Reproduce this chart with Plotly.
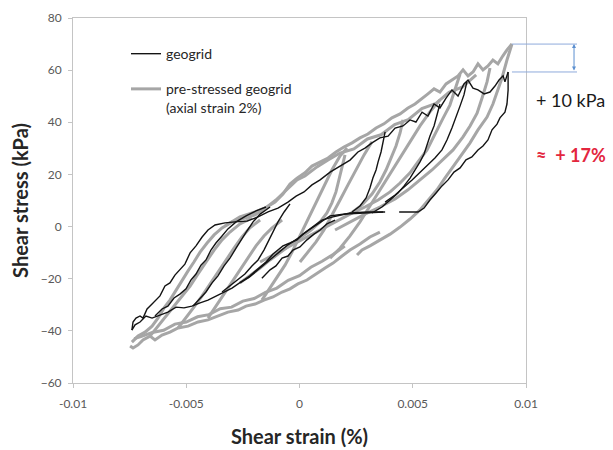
import plotly.graph_objects as go

# ---------------- data (shear strain, shear stress kPa) ----------------
# geogrid (black)
geo_1_x = [-0.00740,-0.00735,-0.00722,-0.00704,-0.00691,-0.00673,-0.00651,-0.00634,-0.00616,-0.00594,-0.00572,-0.00550,-0.00528,-0.00506,-0.00483,-0.00457,-0.00430,-0.00404,-0.00373,-0.00329,-0.00285,-0.00232,-0.00183,-0.00139,-0.00095,-0.00051,-0.00015,0.00020,0.00055,0.00091,0.00135,0.00179,0.00223,0.00258,0.00289,0.00320,0.00355,0.00391,0.00422,0.00457,0.00488,0.00514,0.00541,0.00567,0.00594,0.00620,0.00647,0.00673,0.00700,0.00726,0.00744,0.00766,0.00788,0.00815,0.00841,0.00863,0.00881,0.00899,0.00907,0.00921]
geo_1_y = [-39.7,-36.6,-35.1,-34.3,-35.1,-31.6,-29.7,-28.2,-26.6,-22.8,-21.6,-18.6,-16.6,-14.4,-10.1,-7.4,-4.0,-1.3,0.6,1.4,1.8,2.1,3.7,5.6,7.1,9.4,11.7,13.3,16.0,17.9,20.9,23.2,25.5,28.6,30.1,32.1,34.0,34.7,37.8,38.6,40.9,40.1,43.9,42.4,47.0,45.5,49.3,52.4,50.1,54.7,56.2,53.1,52.4,50.9,51.6,53.9,56.2,57.8,55.5,59.3]

geo_2_x = [0.00921,0.00921,0.00916,0.00907,0.00885,0.00872,0.00850,0.00832,0.00810,0.00788,0.00761,0.00735,0.00709,0.00682,0.00656,0.00629,0.00603,0.00576,0.00550,0.00523,0.00466,0.00440]
geo_2_y = [59.3,52.4,47.0,43.9,41.7,39.3,37.1,33.2,30.9,29.4,26.7,25.6,22.5,20.9,17.9,15.6,12.9,10.2,7.1,5.6,5.6,5.6]

geo_3_x = [0.00369,0.00289,0.00201,0.00135,0.00082,0.00038,-0.00007,-0.00051,-0.00086,-0.00121,-0.00157,-0.00188,-0.00223,-0.00263,-0.00298,-0.00333,-0.00369,-0.00404,-0.00439,-0.00475,-0.00510,-0.00545,-0.00581,-0.00616,-0.00651,-0.00678,-0.00704,-0.00726,-0.00740]
geo_3_y = [5.6,5.2,4.8,4.1,1.0,-1.5,-4.5,-7.0,-9.5,-12.0,-14.5,-17.0,-19.5,-21.5,-23.6,-25.1,-26.6,-28.2,-29.3,-30.5,-31.2,-30.9,-32.8,-33.9,-35.1,-34.3,-36.6,-37.7,-39.7]

geo_4_x = [-0.00638,-0.00607,-0.00581,-0.00554,-0.00528,-0.00501,-0.00479,-0.00457,-0.00435,-0.00413,-0.00391,-0.00369,-0.00342,-0.00316,-0.00280,-0.00236,-0.00192,-0.00148]
geo_4_y = [-34.3,-31.6,-30.5,-27.4,-25.9,-23.9,-20.5,-18.2,-14.8,-12.8,-9.0,-6.3,-3.6,-0.9,1.8,4.1,6.0,7.5]

geo_5_x = [-0.00470,-0.00439,-0.00413,-0.00386,-0.00360,-0.00333,-0.00307,-0.00280,-0.00258,-0.00232,-0.00205,-0.00174,-0.00130]
geo_5_y = [-30.5,-27.4,-25.1,-21.6,-18.9,-15.1,-12.1,-8.3,-5.1,-1.7,1.8,4.8,7.5]

geo_6_x = [-0.00342,-0.00307,-0.00271,-0.00241,-0.00210,-0.00183,-0.00157,-0.00135,-0.00117,-0.00095,-0.00068,-0.00042]
geo_6_y = [-25.1,-22.8,-20.5,-18.2,-15.1,-12.8,-9.0,-5.1,-2.1,1.8,5.6,8.7]

geo_7_x = [-0.00263,-0.00219,-0.00174,-0.00148,-0.00117,-0.00095,-0.00073,-0.00042,-0.00011,0.00015,0.00046,0.00073,0.00099,0.00148,0.00223,0.00298,0.00378]
geo_7_y = [-21.6,-18.9,-15.5,-13.6,-10.5,-9.0,-7.4,-6.3,-5.1,-2.9,-0.9,1.0,2.5,3.7,5.2,5.6,5.6]

geo_8_x = [-0.00166,-0.00130,-0.00104,-0.00077,-0.00051,-0.00029,0.00002,0.00033,0.00064,0.00091,0.00121,0.00157]
geo_8_y = [-19.8,-16.6,-15.1,-12.1,-11.3,-9.0,-7.8,-5.1,-2.9,-1.3,1.0,2.5]

geo_9_x = [0.00378,0.00369,0.00360,0.00347,0.00338,0.00324,0.00311,0.00294,0.00267,0.00232]
geo_9_y = [36.3,32.5,28.6,24.8,21.7,18.6,14.8,11.0,7.9,5.6]

geo_10_x = [0.00620,0.00607,0.00594,0.00576,0.00563,0.00550,0.00532,0.00510,0.00488,0.00461,0.00435,0.00400,0.00364,0.00320]
geo_10_y = [47.0,42.8,38.6,34.7,30.9,27.8,24.8,21.7,18.6,15.5,12.9,10.2,7.5,5.2]

geo_11_x = [0.00739,0.00726,0.00709,0.00691,0.00673,0.00651,0.00629,0.00598,0.00567,0.00532,0.00497,0.00457,0.00422,0.00378]
geo_11_y = [55.5,50.5,46.3,41.7,37.8,33.2,29.4,26.3,23.6,20.9,17.9,14.8,12.1,9.4]

# pre-stressed geogrid (grey)
pre_1_x = [-0.00740,-0.00713,-0.00682,-0.00651,-0.00625,-0.00598,-0.00572,-0.00545,-0.00519,-0.00492,-0.00466,-0.00439,-0.00408,-0.00377,-0.00342,-0.00298,-0.00241,-0.00196,-0.00152,-0.00108,-0.00073,-0.00042,-0.00011,0.00024,0.00055,0.00091,0.00126,0.00161,0.00196,0.00232,0.00267,0.00302,0.00338,0.00373,0.00408,0.00444,0.00479,0.00510,0.00541,0.00567,0.00594,0.00620,0.00647,0.00673,0.00700,0.00722,0.00744,0.00766,0.00788,0.00810,0.00832,0.00854,0.00876,0.00898,0.00916,0.00938]
pre_1_y = [-44.3,-42.0,-40.5,-38.2,-35.1,-31.2,-28.2,-24.3,-20.9,-17.0,-13.6,-9.8,-6.3,-3.2,-0.5,1.8,3.3,4.5,7.1,9.4,12.5,16.3,18.6,20.6,23.2,24.8,26.3,28.6,30.5,32.1,34.0,35.5,37.8,39.4,41.7,43.2,45.5,47.0,49.3,50.9,52.8,51.6,54.7,56.2,57.8,60.1,57.8,59.3,62.4,60.1,61.6,63.9,62.4,65.5,67.8,70.0]

pre_2_x = [0.00254,0.00276,0.00311,0.00355,0.00400,0.00444,0.00488,0.00532,0.00567,0.00607,0.00642,0.00678,0.00717,0.00753,0.00788,0.00828,0.00854,0.00872,0.00894,0.00916,0.00938]
pre_2_y = [-10.9,-9.0,-7.4,-5.1,-2.9,-0.2,2.9,6.4,10.2,14.1,18.6,22.9,27.5,32.1,37.1,42.0,47.0,51.2,57.0,63.9,70.0]

pre_3_x = [0.00841,0.00828,0.00806,0.00784,0.00753,0.00722,0.00678,0.00634,0.00585,0.00532,0.00479,0.00422,0.00355,0.00289,0.00223,0.00157]
pre_3_y = [60.8,55.5,49.3,43.5,38.6,34.4,29.4,25.6,21.7,17.9,14.1,10.6,7.5,4.8,1.8,-1.3]

pre_4_x = [0.00355,0.00311,0.00267,0.00223,0.00188,0.00148,0.00113,0.00073,0.00033,-0.00007,-0.00042,-0.00077,-0.00117,-0.00157,-0.00196,-0.00236,-0.00271,-0.00316,-0.00360,-0.00404,-0.00448,-0.00492,-0.00536,-0.00572,-0.00607,-0.00638,-0.00660,-0.00691,-0.00713,-0.00735,-0.00748]
pre_4_y = [-2.1,-4.0,-6.7,-9.0,-11.3,-14.0,-15.9,-18.2,-20.5,-22.0,-23.9,-25.1,-27.0,-28.2,-29.7,-30.5,-32.0,-32.8,-34.3,-35.8,-36.6,-38.2,-38.9,-40.5,-41.6,-43.5,-42.0,-43.5,-45.4,-46.6,-45.8]

pre_5_x = [0.00200,0.00150,0.00100,0.00050,0.00000,-0.00050,-0.00100,-0.00150,-0.00200,-0.00250,-0.00300,-0.00350,-0.00400,-0.00450,-0.00500,-0.00550,-0.00600,-0.00650,-0.00700,-0.00730]
pre_5_y = [-7.5,-10.6,-13.3,-15.6,-18.8,-20.6,-23.6,-25.2,-27.6,-28.6,-30.9,-31.5,-33.8,-34.6,-36.6,-37.4,-39.8,-40.6,-42.2,-43.0]

pre_6_x = [0.00201,0.00188,0.00174,0.00161,0.00143,0.00121,0.00091,0.00051,0.00002,-0.00042,-0.00086,-0.00130,-0.00174,-0.00219,-0.00263]
pre_6_y = [27.5,22.5,17.9,13.3,9.1,5.2,1.8,-1.3,-4.4,-7.1,-10.1,-12.8,-15.9,-18.9,-21.6]

pre_7_x = [0.00709,0.00686,0.00664,0.00634,0.00603,0.00563,0.00523,0.00488,0.00444,0.00400,0.00347,0.00289,0.00223,0.00157,0.00091,0.00024,-0.00042,-0.00108,-0.00174]
pre_7_y = [58.5,52.4,46.6,41.6,36.3,29.4,24.8,20.6,16.7,13.3,10.2,7.5,4.8,1.8,-1.3,-4.4,-7.4,-10.5,-13.6]

pre_8_x = [0.00457,0.00444,0.00426,0.00404,0.00382,0.00355,0.00320,0.00276,0.00223]
pre_8_y = [40.9,35.9,30.9,26.3,21.7,17.1,12.5,8.3,4.8]

pre_9_x = [-0.00660,-0.00625,-0.00589,-0.00554,-0.00519,-0.00483,-0.00448,-0.00413,-0.00377,-0.00342,-0.00307,-0.00263,-0.00210]
pre_9_y = [-42.0,-38.2,-34.3,-30.5,-26.6,-22.8,-18.2,-13.6,-9.0,-5.1,-2.1,1.0,3.3]

pre_10_x = [-0.00536,-0.00501,-0.00466,-0.00430,-0.00395,-0.00360,-0.00324,-0.00289,-0.00254,-0.00219,-0.00174]
pre_10_y = [-38.9,-35.1,-30.9,-26.6,-22.0,-17.4,-12.8,-8.3,-4.0,-0.5,2.5]

pre_11_x = [-0.00404,-0.00369,-0.00333,-0.00298,-0.00263,-0.00227,-0.00192,-0.00157,-0.00121,-0.00077]
pre_11_y = [-35.1,-30.5,-25.9,-21.3,-16.6,-12.1,-7.4,-3.6,-0.5,2.5]

pre_12_x = [-0.00166,-0.00130,-0.00095,-0.00064,-0.00033,-0.00007,0.00020,0.00046,0.00077,0.00108,0.00143,0.00179,0.00210]
pre_12_y = [-28.2,-23.6,-19.0,-14.8,-9.8,-5.1,-0.5,4.5,10.2,16.0,21.7,27.1,30.1]

pre_13_x = [0.00002,0.00038,0.00073,0.00108,0.00143,0.00179,0.00214,0.00249,0.00285,0.00320]
pre_13_y = [-13.6,-9.8,-5.9,-1.3,4.1,10.2,16.0,21.7,27.5,32.5]

pre_14_x = [0.00135,0.00179,0.00223,0.00267,0.00311,0.00355,0.00400,0.00444,0.00488,0.00532,0.00576,0.00620]
pre_14_y = [-12.1,-8.3,-3.6,1.8,7.9,14.1,20.2,26.3,32.5,38.6,44.0,48.6]

pre_15_x = [-0.00329,-0.00263,-0.00196,-0.00143,-0.00104,-0.00073,-0.00042,-0.00011,0.00024,0.00077,0.00126,0.00179,0.00240,0.00300,0.00360,0.00420,0.00480,0.00540,0.00600,0.00660,0.00720,0.00780]
pre_15_y = [0.2,3.7,5.6,7.5,10.2,12.9,15.6,17.9,19.4,22.9,25.5,28.2,29.8,33.6,35.2,39.1,41.0,45.3,47.1,51.5,53.6,58.2]

# axis ticks
x_ticks = [-0.01, -0.005, 0, 0.005, 0.01]
x_tick_text = ["-0.01", "-0.005", "0", "0.005", "0.01"]
y_ticks = [-60, -40, -20, 0, 20, 40, 60, 80]

geo_branches = [(geo_1_x, geo_1_y), (geo_2_x, geo_2_y), (geo_3_x, geo_3_y), (geo_4_x, geo_4_y),
                (geo_5_x, geo_5_y), (geo_6_x, geo_6_y), (geo_7_x, geo_7_y), (geo_8_x, geo_8_y),
                (geo_9_x, geo_9_y), (geo_10_x, geo_10_y), (geo_11_x, geo_11_y)]
pre_branches = [(pre_1_x, pre_1_y), (pre_2_x, pre_2_y), (pre_3_x, pre_3_y), (pre_4_x, pre_4_y),
                (pre_5_x, pre_5_y), (pre_6_x, pre_6_y), (pre_7_x, pre_7_y), (pre_8_x, pre_8_y),
                (pre_9_x, pre_9_y), (pre_10_x, pre_10_y), (pre_11_x, pre_11_y), (pre_12_x, pre_12_y),
                (pre_13_x, pre_13_y), (pre_14_x, pre_14_y), (pre_15_x, pre_15_y)]


def join(branches):
    xs, ys = [], []
    for bx, by in branches:
        n = min(len(bx), len(by))
        xs += list(bx[:n]) + [None]
        ys += list(by[:n]) + [None]
    return xs, ys


gx, gy = join(geo_branches)
px_, py_ = join(pre_branches)

FONT = "Lato"
fig = go.Figure()
fig.add_trace(go.Scatter(x=px_, y=py_, mode="lines", name="pre-stressed geogrid<br>(axial strain 2%)",
                         line=dict(color="#a6a6a6", width=3), connectgaps=False,
                         legendgroup="pre", legendrank=2))
fig.add_trace(go.Scatter(x=gx, y=gy, mode="lines", name="geogrid",
                         line=dict(color="#141414", width=1.4), connectgaps=False,
                         legendgroup="geo", legendrank=1))

geo_peak = max(geo_1_y)
pre_peak = max(pre_1_y)

axis_common = dict(showline=True, linecolor="#c4c4c4", linewidth=1, mirror=True,
                   ticks="outside", ticklen=4, tickcolor="#c4c4c4", showgrid=False,
                   zeroline=False, automargin=False,
                   tickfont=dict(family=FONT, size=12, color="#595959"))

fig.update_layout(
    width=613, height=450,
    margin=dict(l=73, r=87, t=18, b=67),
    paper_bgcolor="white", plot_bgcolor="white",
    font=dict(family=FONT),
    xaxis=dict(range=[-0.01, 0.01], tickvals=x_ticks, ticktext=x_tick_text,
               title=dict(text="<b>Shear strain (%)</b>", font=dict(family=FONT, size=20, color="#262626"), standoff=19),
               ticklabelstandoff=6, **axis_common),
    yaxis=dict(range=[-60, 80], tickvals=y_ticks,
               title=dict(text="<b>Shear stress (kPa)</b>", font=dict(family=FONT, size=20, color="#262626"), standoff=6),
               ticklabelstandoff=4, **axis_common),
    legend=dict(x=0.117, y=0.945, xanchor="left", yanchor="top", bgcolor="rgba(0,0,0,0)",
                font=dict(family=FONT, size=14, color="#262626"), valign="top",
                tracegroupgap=14, traceorder="grouped"),
    showlegend=True,
)

# +10 kPa marker lines and arrow
line_col = "#8eaadb"
fig.add_shape(type="line", xref="paper", yref="y", x0=0.969, x1=1.1126, y0=pre_peak, y1=pre_peak,
              line=dict(color=line_col, width=1))
fig.add_shape(type="line", xref="paper", yref="y", x0=0.969, x1=1.1126, y0=geo_peak, y1=geo_peak,
              line=dict(color=line_col, width=1))
fig.add_annotation(xref="paper", yref="y", x=1.106, y=pre_peak, axref="pixel", ayref="y", ax=0, ay=geo_peak,
                   text="", showarrow=True, arrowhead=2, arrowside="end+start", arrowsize=0.8,
                   arrowwidth=1, arrowcolor="#5b8fd0", standoff=0, startstandoff=0)
fig.add_annotation(xref="paper", yref="paper", x=1.099, y=0.775, xanchor="center", yanchor="middle",
                   text="+ 10 kPa", showarrow=False,
                   font=dict(family=FONT, size=18, color="#1a1a1a"))
fig.add_annotation(xref="paper", yref="paper", x=1.099, y=0.625, xanchor="center", yanchor="middle",
                   text="<b>≈  + 17%</b>", showarrow=False,
                   font=dict(family=FONT, size=18, color="#e3263e"))

fig.write_html("out.html")
